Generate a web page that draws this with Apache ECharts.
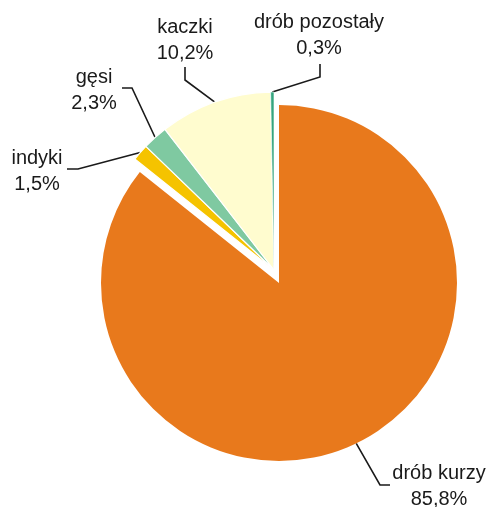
<!DOCTYPE html>
<html>
<head>
<meta charset="utf-8">
<script src="https://cdn.jsdelivr.net/npm/echarts@6/dist/echarts.min.js"></script>
<style>
html,body{margin:0;padding:0;background:#fff;}
#chart{width:487px;height:507px;}
</style>
</head>
<body>
<div id="chart"></div>
<script>
// Data
const categories = ['drób kurzy', 'indyki', 'gęsi', 'kaczki', 'drób pozostały'];
const values = [85.8, 1.5, 2.3, 10.2, 0.3];
const colors = ['#E8791C', '#F5C300', '#7FC9A1', '#FFFCCF', '#35A57F'];

// Label layout (positions of label text blocks and leader elbows)
const labelPos = {
  'drób kurzy':     { x: 439, y: 486, elbow: [380, 485], end: [390, 485] },
  'indyki':         { x: 37,  y: 171, elbow: [78, 169],  end: [67, 169] },
  'gęsi':           { x: 94,  y: 90,  elbow: [132, 88],  end: [122, 88] },
  'kaczki':         { x: 185, y: 40,  elbow: [185, 80],  end: [185, 67] },
  'drób pozostały': { x: 319, y: 35,  elbow: [320, 77],  end: [320, 64] }
};

const fmt = v => v.toFixed(1).replace('.', ',') + '%';

const mainData = categories.map((c, i) => {
  const isMain = i === 0;
  return {
    name: c, value: values[i],
    itemStyle: isMain ? { color: colors[i] } : { color: 'rgba(0,0,0,0)', borderWidth: 0 },
    label: { show: isMain },
    labelLine: { show: isMain }
  };
});
const restData = categories.map((c, i) => {
  const isMain = i === 0;
  return {
    name: c, value: values[i],
    itemStyle: isMain ? { color: 'rgba(0,0,0,0)', borderWidth: 0 } : { color: colors[i], borderColor: '#fff', borderWidth: i === 4 ? 0.6 : 1.2 },
    label: { show: !isMain },
    labelLine: { show: !isMain }
  };
});

const R = 178;
const labelCommon = {
  show: true,
  position: 'outside',
  formatter: p => p.name + '\n' + fmt(p.value),
  fontFamily: 'Liberation Sans, Arial, sans-serif',
  fontSize: 20,
  lineHeight: 26,
  color: '#1a1a1a',
  align: 'center'
};
const labelLineCommon = {
  show: true, length: 15, length2: 10,
  lineStyle: { color: '#1a1a1a', width: 1.6 }
};

function layoutFn() {
  return function (params) {
    const name = categories[params.dataIndex];
    const lp = labelPos[name];
    if (!lp) return {};
    let p0 = params.labelLinePoints && params.labelLinePoints[0];
    return {
      x: lp.x, y: lp.y,
      align: 'center', verticalAlign: 'middle',
      labelLinePoints: p0 ? [p0, lp.elbow, lp.end] : undefined
    };
  };
}

const chart = echarts.init(document.getElementById('chart'), null, { renderer: 'canvas' });
chart.setOption({
  backgroundColor: '#fff',
  animation: false,
  series: [
    {
      type: 'pie', center: [279, 283], radius: R,
      startAngle: 90, clockwise: true, silent: true,
      avoidLabelOverlap: false,
      data: mainData,
      label: labelCommon,
      labelLine: labelLineCommon,
      labelLayout: layoutFn(),
      emphasis: { disabled: true }
    },
    {
      type: 'pie', center: [274, 270], radius: R,
      startAngle: 90, clockwise: true, silent: true,
      avoidLabelOverlap: false,
      data: restData,
      label: labelCommon,
      labelLine: labelLineCommon,
      labelLayout: layoutFn(),
      emphasis: { disabled: true }
    }
  ]
});
</script>
</body>
</html>
